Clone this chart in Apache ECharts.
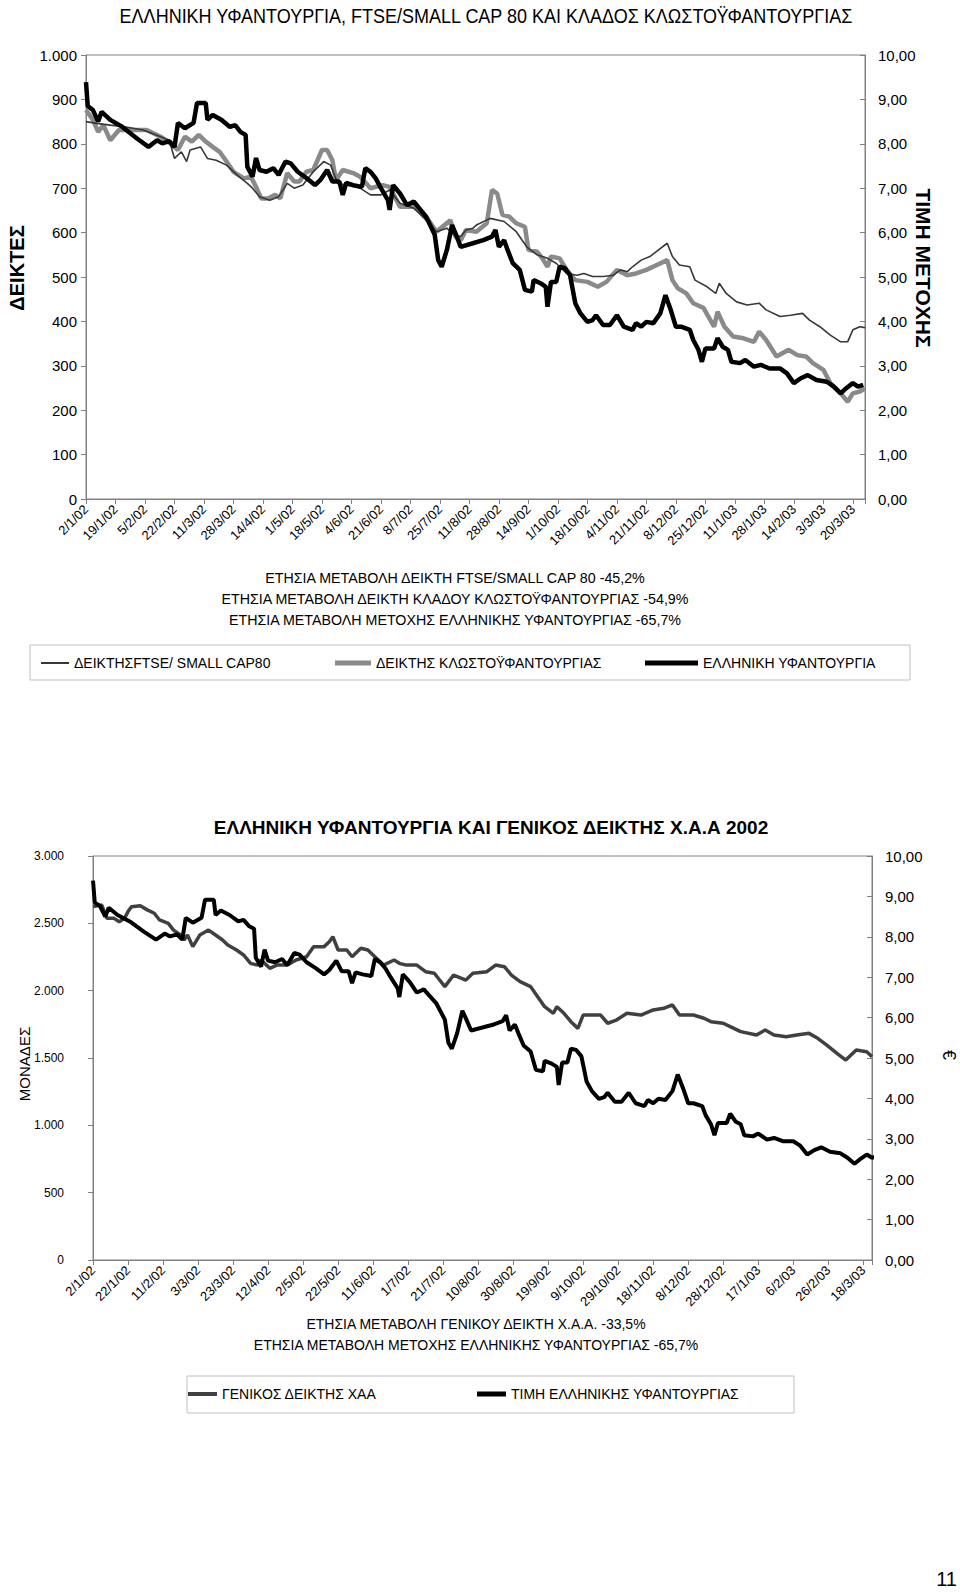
<!DOCTYPE html>
<html><head><meta charset="utf-8">
<script src="https://cdn.jsdelivr.net/npm/echarts@6/dist/echarts.min.js"></script>
<style>html,body{margin:0;padding:0;background:#fff}#c{width:960px;height:1592px}</style>
</head><body><div id="c"></div>
<script>
const NARROW = "'Liberation Sans Narrow','Arial Narrow','Liberation Sans',Arial,sans-serif";
const SANS = "'Liberation Sans',Arial,sans-serif";

// x tick labels (days counted from 2/1/02)
const topDateLabels = ['2/1/02','19/1/02','5/2/02','22/2/02','11/3/02','28/3/02','14/4/02','1/5/02','18/5/02','4/6/02','21/6/02','8/7/02','25/7/02','11/8/02','28/8/02','14/9/02','1/10/02','18/10/02','4/11/02','21/11/02','8/12/02','25/12/02','11/1/03','28/1/03','14/2/03','3/3/03','20/3/03'];
const bottomDateLabels = ['2/1/02','22/1/02','11/2/02','3/3/02','23/3/02','12/4/02','2/5/02','22/5/02','11/6/02','1/7/02','21/7/02','10/8/02','30/8/02','19/9/02','9/10/02','29/10/02','18/11/02','8/12/02','28/12/02','17/1/03','6/2/03','26/2/03','18/3/03'];

// [day, index value]
const ftseSmallCap = [[0,850],[6,846],[14,842],[23,838],[33,831],[43,816],[48,808],[51,767],[55,782],[58,760],[60,786],[66,793],[70,767],[75,763],[81,752],[87,730],[93,711],[96,700],[100,681],[106,673],[111,681],[116,711],[120,700],[125,707],[131,737],[137,760],[141,752],[145,711],[150,707],[158,700],[164,685],[170,685],[175,696],[181,666],[189,655],[196,628],[202,602],[208,610],[212,595],[216,591],[219,606],[223,610],[225,617],[233,632],[241,625],[248,602],[254,568],[260,550],[266,542],[271,531],[277,508],[283,504],[287,508],[292,501],[298,501],[304,504],[308,516],[312,512],[315,523],[320,538],[325,546],[330,561],[335,576],[338,546],[342,527],[348,523],[351,493],[358,478],[363,463],[365,486],[369,463],[375,444],[381,437],[388,441],[392,426],[400,411],[406,414],[413,418],[417,403],[423,388],[429,369],[435,354],[439,354],[442,381],[446,388],[449,386]];
const textileSector = [[0,876],[4,854],[7,827],[10,842],[14,808],[19,831],[29,831],[35,831],[43,816],[50,797],[53,786],[57,816],[61,805],[65,820],[69,805],[73,793],[77,782],[81,760],[85,737],[91,722],[95,726],[98,703],[101,677],[105,677],[109,685],[112,677],[116,734],[120,715],[123,715],[127,737],[131,741],[136,786],[139,786],[142,763],[144,718],[148,741],[154,734],[158,726],[164,700],[171,707],[175,703],[181,658],[189,658],[196,636],[202,602],[210,628],[213,591],[216,583],[219,606],[225,602],[231,621],[234,696],[237,688],[240,640],[244,636],[248,621],[253,613],[255,561],[260,557],[263,542],[266,523],[268,546],[273,542],[277,516],[282,493],[289,489],[295,478],[300,489],[306,516],[312,504],[317,508],[323,516],[329,527],[335,538],[338,493],[341,475],[346,463],[350,441],[356,430],[362,388],[364,422],[368,388],[373,366],[379,362],[385,354],[388,377],[392,358],[398,321],[405,336],[410,324],[415,321],[419,306],[425,291],[429,261],[435,238],[439,219],[442,238],[446,242],[449,249]];
// [day, share price in euro]
const ellinikiPrice = [[0,9.39],[1,8.85],[4,8.76],[7,8.50],[9,8.72],[14,8.54],[21,8.38],[29,8.13],[36,7.93],[41,8.08],[44,8.01],[48,8.06],[51,7.93],[53,8.47],[57,8.35],[62,8.47],[64,8.92],[69,8.92],[70,8.54],[73,8.65],[78,8.54],[83,8.38],[86,8.42],[89,8.27],[92,8.20],[93,7.48],[96,7.26],[98,7.68],[100,7.41],[104,7.37],[108,7.45],[111,7.30],[115,7.60],[118,7.56],[122,7.37],[127,7.23],[132,7.07],[135,7.18],[139,7.41],[142,7.15],[146,7.15],[148,6.85],[150,7.12],[154,7.07],[159,7.03],[161,7.45],[164,7.37],[167,7.22],[170,7.00],[174,6.73],[175,6.51],[177,7.07],[181,6.88],[185,6.62],[189,6.70],[192,6.55],[196,6.36],[201,5.95],[203,5.38],[205,5.23],[208,5.61],[211,6.17],[213,5.98],[216,5.68],[223,5.76],[229,5.83],[234,5.91],[236,6.06],[238,5.68],[241,5.83],[243,5.61],[246,5.31],[250,5.16],[253,4.71],[257,4.67],[258,4.93],[262,4.86],[265,4.78],[266,4.33],[268,4.89],[271,4.89],[273,5.23],[276,5.20],[279,5.04],[282,4.41],[285,4.18],[289,3.99],[292,4.03],[294,4.14],[298,3.92],[302,3.92],[306,4.14],[310,3.88],[315,3.81],[317,3.96],[320,3.88],[323,3.99],[327,3.96],[331,4.18],[334,4.59],[337,4.26],[340,3.88],[343,3.88],[348,3.81],[350,3.58],[353,3.36],[355,3.09],[357,3.39],[362,3.39],[364,3.62],[367,3.43],[370,3.36],[372,3.09],[377,3.06],[380,3.13],[385,2.98],[389,3.02],[394,2.94],[400,2.94],[404,2.83],[408,2.61],[412,2.72],[416,2.79],[421,2.68],[427,2.64],[431,2.53],[435,2.38],[438,2.49],[442,2.61],[445,2.53],[448,2.57]];
const generalIndex = [[0,2624],[5,2636],[8,2537],[12,2537],[15,2512],[18,2537],[20,2587],[22,2624],[27,2630],[31,2600],[35,2575],[38,2525],[43,2500],[46,2450],[50,2413],[52,2376],[54,2413],[57,2327],[61,2413],[66,2450],[70,2413],[74,2376],[77,2339],[82,2302],[86,2265],[90,2203],[94,2190],[96,2228],[101,2166],[105,2190],[111,2190],[116,2228],[122,2252],[126,2327],[132,2327],[135,2364],[137,2401],[140,2302],[145,2302],[148,2252],[153,2315],[157,2302],[161,2252],[166,2190],[172,2228],[175,2203],[179,2190],[185,2190],[190,2141],[195,2129],[198,2079],[201,2030],[206,2116],[213,2079],[217,2129],[225,2141],[230,2190],[235,2178],[239,2116],[244,2067],[250,2030],[254,1955],[258,1881],[263,1832],[265,1881],[269,1832],[273,1770],[277,1720],[280,1819],[286,1819],[290,1819],[294,1758],[299,1782],[305,1832],[313,1819],[320,1857],[326,1869],[331,1894],[335,1819],[343,1819],[349,1795],[353,1770],[360,1758],[364,1733],[370,1696],[379,1671],[384,1708],[389,1671],[396,1658],[402,1671],[409,1683],[414,1646],[419,1597],[425,1535],[430,1485],[433,1522],[436,1559],[442,1547],[445,1510]];

const noteTop = ['ΕΤΗΣΙΑ ΜΕΤΑΒΟΛΗ ΔΕΙΚΤΗ FTSE/SMALL CAP 80 -45,2%','ΕΤΗΣΙΑ ΜΕΤΑΒΟΛΗ ΔΕΙΚΤΗ ΚΛΑΔΟΥ ΚΛΩΣΤΟΫΦΑΝΤΟΥΡΓΙΑΣ -54,9%','ΕΤΗΣΙΑ ΜΕΤΑΒΟΛΗ ΜΕΤΟΧΗΣ ΕΛΛΗΝΙΚΗΣ ΥΦΑΝΤΟΥΡΓΙΑΣ -65,7%'];
const noteBottom = ['ΕΤΗΣΙΑ ΜΕΤΑΒΟΛΗ ΓΕΝΙΚΟΥ ΔΕΙΚΤΗ Χ.Α.Α. -33,5%','ΕΤΗΣΙΑ ΜΕΤΑΒΟΛΗ ΜΕΤΟΧΗΣ ΕΛΛΗΝΙΚΗΣ ΥΦΑΝΤΟΥΡΓΙΑΣ -65,7%'];

const S1 = 'ΔΕΙΚΤΗΣFTSE/ SMALL CAP80', S2 = 'ΔΕΙΚΤΗΣ ΚΛΩΣΤΟΫΦΑΝΤΟΥΡΓΙΑΣ', S3 = 'ΕΛΛΗΝΙΚΗ ΥΦΑΝΤΟΥΡΓΙΑ';
const S4 = 'ΓΕΝΙΚΟΣ ΔΕΙΚΤΗΣ ΧΑΑ', S5 = 'ΤΙΜΗ ΕΛΛΗΝΙΚΗΣ ΥΦΑΝΤΟΥΡΓΙΑΣ';

const GRAY = '#808080';
const thou = v => String(v).replace(/\B(?=(\d{3})+(?!\d))/g, '.');
const dec2 = v => v.toFixed(2).replace('.', ',');

function xAxis(grid, max, step, labels, font, size) {
  return {
    type: 'value', gridIndex: grid, min: 0, max: max, interval: step,
    axisLine: {show: true, lineStyle: {color: GRAY, width: 1}},
    axisTick: {show: true, length: 5, lineStyle: {color: GRAY}},
    splitLine: {show: false},
    axisLabel: {
      rotate: 45, margin: 8, fontFamily: font, fontSize: size, color: '#000',
      formatter: v => (v % step === 0 && v / step < labels.length) ? labels[v / step] : ''
    }
  };
}
function yAxis(grid, pos, max, step, fmt, font, size, margin) {
  return {
    type: 'value', gridIndex: grid, position: pos, min: 0, max: max, interval: step,
    axisLine: {show: true, lineStyle: {color: GRAY, width: 1}},
    axisTick: {show: true, inside: pos === 'right', length: 5, lineStyle: {color: GRAY}},
    splitLine: {show: false},
    axisLabel: {formatter: fmt, fontFamily: font, fontSize: size, color: '#000', margin: margin}
  };
}
function txt(x, y, text, font, size, weight, rot, align, sx) {
  return {type: 'text', x: x, y: y, rotation: rot || 0, scaleX: sx || 1, silent: true,
    style: {text: text, fontFamily: font, fontSize: size, fontWeight: weight || 'normal', fill: '#000',
      align: align || 'center', verticalAlign: 'middle'}};
}
function leg(name, left, top, w, h, font, size) {
  return {data: [name], left: left, top: top, itemWidth: w, itemHeight: h, icon: 'rect', padding: 0, itemGap: 0,
    selectedMode: false, textStyle: {fontFamily: font, fontSize: size, color: '#000'}};
}

const chart = echarts.init(document.getElementById('c'), null, {renderer: 'svg'});
chart.setOption({
  animation: false,
  backgroundColor: '#fff',
  grid: [
    {left: 86, right: 95, top: 55, height: 444, show: true, borderColor: GRAY, borderWidth: 1},
    {left: 93, right: 88, top: 856, height: 404, show: true, borderColor: GRAY, borderWidth: 1}
  ],
  xAxis: [
    xAxis(0, 449, 17, topDateLabels, NARROW, 13),
    xAxis(1, 445, 20, bottomDateLabels, SANS, 13)
  ],
  yAxis: [
    yAxis(0, 'left', 1000, 100, thou, NARROW, 15, 9),
    yAxis(0, 'right', 10, 1, dec2, NARROW, 15, 13),
    yAxis(1, 'left', 3000, 500, thou, SANS, 12, 29),
    yAxis(1, 'right', 10, 1, dec2, SANS, 15, 13)
  ],
  legend: [
    leg(S1, 41, 656, 28, 2, NARROW, 14),
    leg(S2, 335, 656, 36, 5, NARROW, 14),
    leg(S3, 645, 656, 53, 5, NARROW, 14),
    leg(S4, 188, 1387, 29, 4, SANS, 14),
    leg(S5, 477, 1387, 29, 5, SANS, 14)
  ],
  series: [
    {name: S1, type: 'line', xAxisIndex: 0, yAxisIndex: 0, data: ftseSmallCap, symbol: 'none', z: 3,
      lineStyle: {color: '#383838', width: 1.6}, itemStyle: {color: '#383838'}},
    {name: S2, type: 'line', xAxisIndex: 0, yAxisIndex: 0, data: textileSector, symbol: 'none', z: 2,
      lineStyle: {color: '#8a8a8a', width: 4.5}, itemStyle: {color: '#8a8a8a'}},
    {name: S3, type: 'line', xAxisIndex: 0, yAxisIndex: 1, data: ellinikiPrice, symbol: 'none', z: 4,
      lineStyle: {color: '#000', width: 4.5}, itemStyle: {color: '#000'}},
    {name: S4, type: 'line', xAxisIndex: 1, yAxisIndex: 2, data: generalIndex, symbol: 'none', z: 2,
      lineStyle: {color: '#404040', width: 3.5}, itemStyle: {color: '#404040'}},
    {name: S5, type: 'line', xAxisIndex: 1, yAxisIndex: 3, data: ellinikiPrice, symbol: 'none', z: 3,
      lineStyle: {color: '#000', width: 4}, itemStyle: {color: '#000'}}
  ],
  graphic: [
    txt(486, 16, 'ΕΛΛΗΝΙΚΗ ΥΦΑΝΤΟΥΡΓΙΑ, FTSE/SMALL CAP 80 ΚΑΙ ΚΛΑΔΟΣ ΚΛΩΣΤΟΫΦΑΝΤΟΥΡΓΙΑΣ', NARROW, 20, 'normal', 0, 'center', 0.9),
    txt(17, 268, 'ΔΕΙΚΤΕΣ', SANS, 20, 'bold', Math.PI / 2),
    txt(923, 268, 'ΤΙΜΗ ΜΕΤΟΧΗΣ', SANS, 21, 'bold', -Math.PI / 2),
    txt(455, 578, noteTop[0], NARROW, 15.5, 'normal', 0, 'center', 0.92),
    txt(455, 599, noteTop[1], NARROW, 15.5, 'normal', 0, 'center', 0.92),
    txt(455, 620, noteTop[2], NARROW, 15.5, 'normal', 0, 'center', 0.92),
    {type: 'rect', silent: true, shape: {x: 30, y: 645, width: 880, height: 35}, style: {fill: 'none', stroke: '#c0c0c0', lineWidth: 1}},
    txt(491, 827, 'ΕΛΛΗΝΙΚΗ ΥΦΑΝΤΟΥΡΓΙΑ ΚΑΙ ΓΕΝΙΚΟΣ ΔΕΙΚΤΗΣ Χ.Α.Α 2002', NARROW, 19, 'bold'),
    txt(24, 1064, 'ΜΟΝΑΔΕΣ', SANS, 15, 'normal', Math.PI / 2),
    txt(949, 1055, '€', SANS, 18, 'normal', -Math.PI / 2),
    txt(476, 1324, noteBottom[0], SANS, 14),
    txt(476, 1345, noteBottom[1], SANS, 14),
    {type: 'rect', silent: true, shape: {x: 187, y: 1376, width: 607, height: 37}, style: {fill: 'none', stroke: '#c0c0c0', lineWidth: 1}},
    txt(957, 1579, '11', SANS, 20, 'normal', 0, 'right')
  ]
});
</script></body></html>
